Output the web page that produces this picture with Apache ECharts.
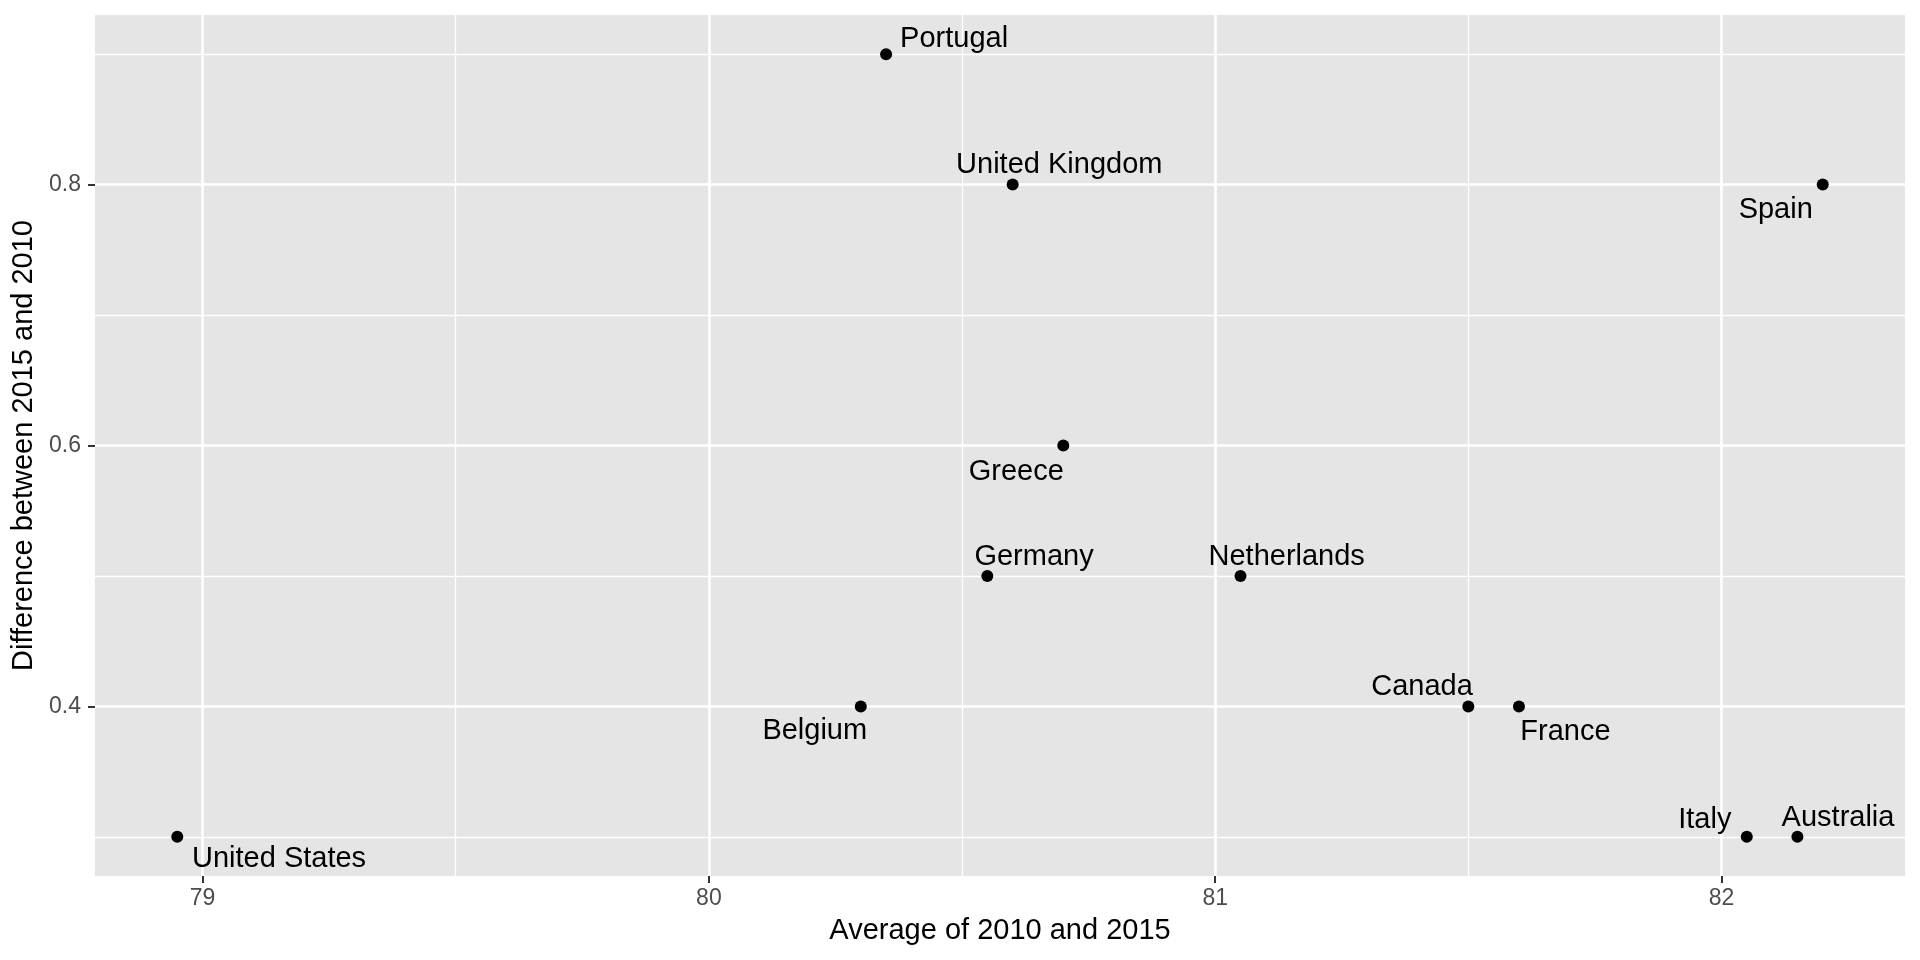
<!DOCTYPE html>
<html>
<head>
<meta charset="utf-8">
<script src="https://cdn.jsdelivr.net/npm/echarts@6/dist/echarts.min.js"></script>
<style>
html,body{margin:0;padding:0;background:#fff;}
#chart{width:1920px;height:960px;}
</style>
</head>
<body>
<div id="chart"></div>
<script>
// ---- data ----
const countries = ["Portugal","United Kingdom","Spain","Greece","Germany","Netherlands","Belgium","Canada","France","United States","Italy","Australia"];
const avgValues = [80.35, 80.6, 82.2, 80.7, 80.55, 81.05, 80.3, 81.5, 81.6, 78.95, 82.05, 82.15];
const diffValues = [0.9, 0.8, 0.8, 0.6, 0.5, 0.5, 0.4, 0.4, 0.4, 0.3, 0.3, 0.3];
const xTicks = [79, 80, 81, 82];
const xMinorTicks = [79.5, 80.5, 81.5];
const yTicks = [0.4, 0.6, 0.8];
const yMinorTicks = [0.3, 0.5, 0.7, 0.9];

// label placement (pixel offsets of label centre from point), styling only
const labelOffsets = [
  [68, -15.5], [46.6, -19.5], [-47, 25], [-47, 26], [46.7, -19], [46.2, -19],
  [-46, 24.5], [-46.3, -19], [46.5, 26], [101.8, 22], [-42, -17], [40.6, -19]
];

const FONT = 'Liberation Sans, Arial, Helvetica, sans-serif';

const points = countries.map((c, i) => ({
  name: c,
  value: [avgValues[i], diffValues[i]],
  label: { offset: labelOffsets[i] }
}));

const gridLines = [];
xTicks.forEach(v => gridLines.push({ xAxis: v, lineStyle: { width: 2.6 } }));
xMinorTicks.forEach(v => gridLines.push({ xAxis: v, lineStyle: { width: 1.3 } }));
yTicks.forEach(v => gridLines.push({ yAxis: v, lineStyle: { width: 2.6 } }));
yMinorTicks.forEach(v => gridLines.push({ yAxis: v, lineStyle: { width: 1.3 } }));

const chart = echarts.init(document.getElementById('chart'), null, { renderer: 'canvas' });
chart.setOption({
  animation: false,
  backgroundColor: '#ffffff',
  textStyle: { fontFamily: FONT },
  grid: {
    left: 95, right: 15, top: 15, bottom: 84,
    show: true, backgroundColor: '#E5E5E5', borderWidth: 0
  },
  xAxis: {
    type: 'value',
    min: 78.7875, max: 82.3625,
    name: 'Average of 2010 and 2015',
    nameLocation: 'middle',
    nameGap: 40,
    nameTextStyle: { fontSize: 29, color: '#000', fontFamily: FONT },
    axisLine: { show: false },
    splitLine: { show: false },
    axisTick: { show: true, customValues: xTicks, length: 7, lineStyle: { color: '#333333', width: 2 } },
    axisLabel: { customValues: xTicks, margin: 11, fontSize: 23, color: '#4D4D4D', fontFamily: FONT }
  },
  yAxis: {
    type: 'value',
    min: 0.27, max: 0.93,
    name: 'Difference between 2015 and 2010',
    nameLocation: 'middle',
    nameGap: 52,
    nameRotate: 90,
    nameTextStyle: { fontSize: 29, color: '#000', fontFamily: FONT },
    axisLine: { show: false },
    splitLine: { show: false },
    axisTick: { show: true, customValues: yTicks, length: 7, lineStyle: { color: '#333333', width: 2 } },
    axisLabel: { customValues: yTicks, margin: 14, fontSize: 23, color: '#4D4D4D', fontFamily: FONT }
  },
  series: [
    {
      type: 'line',
      data: [],
      z: 1,
      silent: true,
      markLine: {
        z: 1,
        silent: true,
        symbol: 'none',
        label: { show: false },
        emphasis: { disabled: true },
        lineStyle: { color: '#ffffff', type: 'solid', opacity: 1 },
        data: gridLines
      }
    },
    {
      type: 'scatter',
      z: 3,
      symbol: 'circle',
      symbolSize: 12,
      itemStyle: { color: '#000000', opacity: 1 },
      label: {
        show: true,
        formatter: '{b}',
        position: 'inside',
        align: 'center',
        verticalAlign: 'middle',
        fontSize: 29,
        color: '#000000',
        opacity: 1,
        textBorderWidth: 0,
        textBorderColor: 'transparent',
        fontFamily: FONT
      },
      data: points
    }
  ]
});
</script>
</body>
</html>
